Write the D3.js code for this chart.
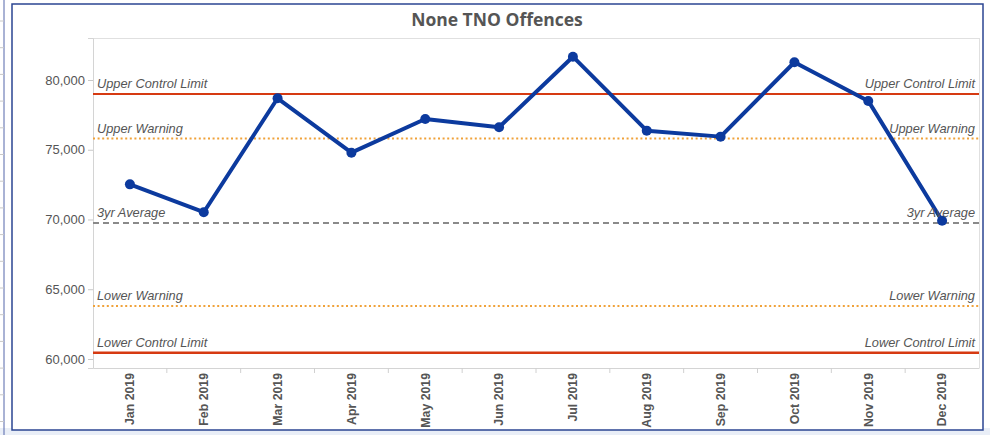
<!DOCTYPE html>
<html><head><meta charset="utf-8">
<script src="https://cdn.jsdelivr.net/npm/d3@7"></script>
<style>body{margin:0;background:#fff;} svg{display:block;}</style>
</head><body>
<svg id="c" width="990" height="435"></svg>
<script>
const months = ["Jan 2019","Feb 2019","Mar 2019","Apr 2019","May 2019","Jun 2019","Jul 2019","Aug 2019","Sep 2019","Oct 2019","Nov 2019","Dec 2019"];
const offences = [72520,70520,78690,74790,77200,76610,81670,76370,75940,81270,78500,69910];
const refNames = ["Upper Control Limit","Upper Warning","3yr Average","Lower Warning","Lower Control Limit"];
const refValues = [79000,75800,69750,63800,60450];
const yTicks = [60000,65000,70000,75000,80000];
const title = "None TNO Offences";

const svg = d3.select("#c");
const W = 990, H = 435;
const m = {left:93, right:979, top:38, bottom:368};

// frame decorations
svg.append("rect").attr("x",0).attr("y",428).attr("width",W).attr("height",7).attr("fill","#e9eef7");
svg.append("line").attr("x1",4).attr("x2",4).attr("y1",0).attr("y2",H).attr("stroke","#5566aa").attr("stroke-width",1);
for (let yy = 21; yy < H; yy += 26.7) {
  svg.append("line").attr("x1",0).attr("x2",4).attr("y1",yy).attr("y2",yy).attr("stroke","#c8c8c8").attr("stroke-width",1);
}
svg.append("rect").attr("x",12).attr("y",4).attr("width",971).attr("height",426)
  .attr("fill","#fff").attr("stroke","#2b4592").attr("stroke-width",1.5);

const x = d3.scaleBand().domain(months).range([m.left, m.right]).padding(0);
const y = d3.scaleLinear().domain([59355, 83010]).range([m.bottom, m.top]);

// plot border (light)
svg.append("line").attr("x1",m.left).attr("x2",m.right).attr("y1",m.top+0.5).attr("y2",m.top+0.5).attr("stroke","#e0e0e0");
svg.append("line").attr("x1",m.right+0.5).attr("x2",m.right+0.5).attr("y1",m.top).attr("y2",m.bottom).attr("stroke","#e0e0e0");

// title
svg.append("text").attr("x",497).attr("y",26).attr("text-anchor","middle")
  .attr("font-family","'Open Sans', sans-serif").attr("font-weight","bold").attr("font-size",17.5)
  .attr("fill","#555").text(title);

// y axis
const ya = svg.append("g").attr("transform",`translate(${m.left},0)`)
  .call(d3.axisLeft(y).tickValues(yTicks).tickFormat(d3.format(",")).tickSize(5).tickPadding(3));
ya.select(".domain").attr("stroke","#d4d4d4");
ya.selectAll(".tick line").attr("stroke","#c8c8c8");
ya.selectAll("text").attr("font-family","'Liberation Sans', Arial, sans-serif").attr("font-size",13).attr("fill","#555");

// x axis
const xa = svg.append("g").attr("transform",`translate(0,${m.bottom})`)
  .call(d3.axisBottom(x).tickSize(0).tickPadding(0));
xa.select(".domain").attr("stroke","#d4d4d4");
xa.selectAll(".tick text")
  .attr("transform","rotate(-90)")
  .attr("text-anchor","end").attr("x",-5).attr("y",0).attr("dy","0.35em")
  .attr("font-family","'Liberation Sans', Arial, sans-serif").attr("font-weight","bold").attr("font-size",12.3).attr("fill","#555");
// band boundary ticks
svg.append("g").selectAll("line").data(months.slice(1)).join("line")
  .attr("x1",d=>x(d)).attr("x2",d=>x(d)).attr("y1",m.bottom).attr("y2",m.bottom+5)
  .attr("stroke","#d0d0d0");

// reference lines
const refStyle = [
  {c:"#d63a12", w:2, dash:null},
  {c:"#f0a23a", w:2, dash:"2,2.6"},
  {c:"#8a8a8a", w:2, dash:"6,4"},
  {c:"#f0a23a", w:2, dash:"2,2.6"},
  {c:"#d63a12", w:2.5, dash:null}
];
refValues.forEach((v,i)=>{
  const yy = y(v);
  const l = svg.append("line").attr("x1",m.left).attr("x2",m.right).attr("y1",yy).attr("y2",yy)
    .attr("stroke",refStyle[i].c).attr("stroke-width",refStyle[i].w);
  if (refStyle[i].dash) l.attr("stroke-dasharray",refStyle[i].dash);
});

// series
const line = d3.line().x((d,i)=>x(months[i])+x.bandwidth()/2).y(d=>y(d));
svg.append("path").datum(offences).attr("d",line).attr("fill","none")
  .attr("stroke","#0c3a9e").attr("stroke-width",4).attr("stroke-linejoin","round");
svg.append("g").selectAll("circle").data(offences).join("circle")
  .attr("cx",(d,i)=>x(months[i])+x.bandwidth()/2).attr("cy",d=>y(d)).attr("r",5)
  .attr("fill","#0c3a9e");

// reference labels (drawn on top)
refValues.forEach((v,i)=>{
  const yy = y(v) - 6;
  const common = s => s.attr("font-family","'Liberation Sans', Arial, sans-serif").attr("font-style","italic")
    .attr("font-size",12.8).attr("fill","#555");
  common(svg.append("text").attr("x",m.left+4).attr("y",yy).text(refNames[i]));
  common(svg.append("text").attr("x",m.right-4).attr("y",yy).attr("text-anchor","end").text(refNames[i]));
});
</script>
</body></html>
